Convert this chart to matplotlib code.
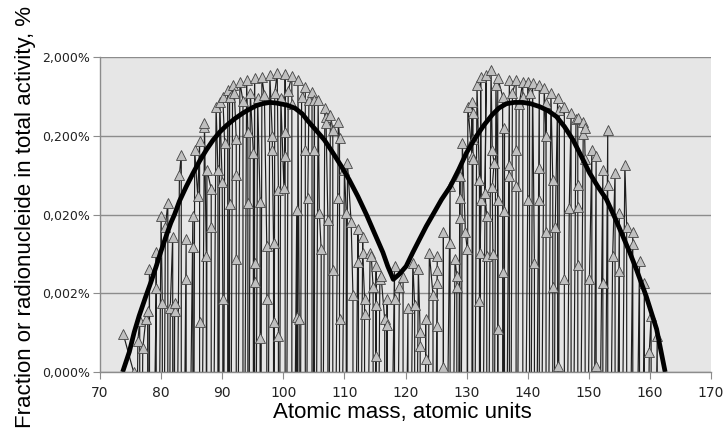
import numpy as np
import matplotlib
matplotlib.use("Agg")
import matplotlib.pyplot as plt
from matplotlib.ticker import FuncFormatter, FixedLocator, NullLocator

# --- data (fraction of total activity, %) ---
# 0 = nuclide with no activity (line drops below the axis)
mass_light = [73.8, 75.5, 75.5, 76.2, 76.5, 76.5, 77.0, 77.5, 77.8, 77.8,
              78.1, 78.1, 79.2, 79.2, 79.2, 80.0, 80.2, 80.2, 80.7, 81.1,
              81.1, 81.5, 81.9, 81.9, 82.2, 82.2, 82.2, 83.0, 83.3, 83.3,
              84.1, 84.1, 84.1, 85.2, 85.2, 85.2, 85.5, 86.0, 86.3, 86.3,
              86.3, 87.1, 87.1, 87.4, 87.4, 87.5, 88.2, 88.2, 88.2, 89.0,
              89.3, 89.3, 89.6, 90.0, 90.1, 90.1, 90.4, 90.1, 90.9, 90.9,
              91.2, 91.2, 91.2, 91.7, 92.0, 92.3, 92.3, 92.3, 92.3, 92.9,
              93.4, 93.4, 94.0, 94.2, 94.2, 94.2, 94.6, 95.1, 95.1, 95.3,
              95.3, 95.3, 95.3, 95.8, 96.2, 96.2, 96.2, 96.5, 96.9, 97.3,
              97.3, 97.3, 97.8, 98.2, 98.2, 98.4, 98.4, 98.4, 98.6, 99.0,
              99.2, 99.2, 99.2, 99.6, 100.1, 100.3, 100.3, 100.3, 100.3, 100.8,
              101.4, 101.4, 101.4, 102.2, 102.2, 102.2, 102.4, 102.6, 102.6, 103.0,
              103.6, 103.6, 103.6, 104.0, 104.2, 104.7, 104.7, 105.1, 105.1, 105.1,
              105.7, 105.9, 106.2, 106.2, 106.8, 107.0, 107.0, 107.3, 107.3, 107.7,
              108.1, 108.1, 108.1, 108.9, 109.0, 109.2, 109.2, 109.2]
frac_light = [0.00061, 0.0002, 0, 0.0005, 0.0009, 0, 0.0004, 0.00093, 0.0012, 0,
              0.0041, 0, 0.0023, 0.0067, 0, 0.019, 0.0015, 0, 0.014, 0.028,
              0, 0.0013, 0.0105, 0, 0.0012, 0.0015, 0, 0.064, 0.115, 0,
              0.0097, 0.003, 0, 0.019, 0.0078, 0, 0.13, 0.034, 0.17, 0.00087,
              0, 0.26, 0.29, 0.0059, 0, 0.074, 0.042, 0.014, 0, 0.47,
              0.074, 0, 0.54, 0.051, 0.0017, 0, 0.16, 0.62, 0.76, 0,
              0.63, 0.027, 0, 0.88, 0.69, 0.18, 0.064, 0.0054, 0, 0.96,
              0.55, 0, 1.02, 0.22, 0.028, 0, 0.7, 0.12, 0, 1.08,
              0.0049, 0.0028, 0, 0.6, 0.029, 0.00054, 0, 1.11, 0.65, 0.0079,
              0.0017, 0, 1.18, 0.2, 0.13, 0.0088, 0.00086, 0, 0.7, 1.25,
              0.041, 0.00057, 0, 0.6, 0.044, 0.22, 0.11, 1.22, 0, 0.75,
              1.15, 0.5, 0, 0.023, 0.001, 0, 1.02, 0.00093, 0, 0.62,
              0.83, 0.13, 0, 0.032, 0.57, 0.72, 0, 0.57, 0.13, 0,
              0.57, 0.021, 0.0072, 0, 0.45, 0.35, 0.29, 0.017, 0, 0.37,
              0.24, 0.0039, 0, 0.032, 0.3, 0.19, 0.00093, 0]

mass_valley = [110.0, 110.3, 110.3, 110.5, 111.1, 111.4, 111.4, 112.2, 112.3, 112.3,
               113.0, 113.0, 113.3, 113.3, 113.3, 114.2, 114.4, 114.7, 114.7, 115.2,
               115.2, 115.2, 115.2, 115.8, 116.0, 116.6, 116.6, 117.0, 117.0, 117.0,
               118.2, 118.2, 118.2, 119.0, 119.6, 119.6, 120.4, 120.4, 121.2, 121.5,
               121.5, 122.1, 122.4, 122.4, 122.4, 123.3, 123.3, 123.3, 123.9, 124.5,
               124.5, 125.2, 125.2, 125.2, 125.2, 125.2, 126.2, 126.2, 126.2, 127.3,
               127.3, 127.3, 128.1, 128.4, 128.4, 128.4, 128.9, 128.9, 128.9, 128.9,
               129.3, 129.8, 130.1, 130.1]
frac_valley = [0.074, 0.021, 0, 0.09, 0.016, 0.0019, 0, 0.013, 0.005, 0,
               0.0105, 0.0065, 0.0017, 0.0011, 0, 0.0065, 0.0059, 0.0024, 0, 0.0044,
               0.0014, 0.00032, 0, 0.003, 0.0033, 0.00093, 0, 0.0017, 0.0008, 0,
               0.0044, 0.0017, 0, 0.0024, 0.0032, 0, 0.0013, 0, 0.0049, 0.0014,
               0, 0.0041, 0.00064, 0.00043, 0, 0.00029, 0.00093, 0, 0.0065, 0.0019,
               0, 0.0059, 0.0039, 0.0027, 0.00077, 0, 0.00023, 0.012, 0, 0.046,
               0.0088, 0, 0.0054, 0.0033, 0.0024, 0, 0.061, 0.032, 0.018, 0,
               0.16, 0.012, 0.0072, 0]

mass_heavy = [130.2, 130.9, 130.9, 130.9, 131.0, 131.0, 131.0, 131.0, 131.7, 132.1,
              132.1, 132.1, 132.3, 132.4, 132.2, 132.2, 133.2, 133.0, 133.3, 133.3,
              133.3, 134.0, 134.2, 134.5, 134.2, 134.3, 134.3, 134.8, 135.1, 135.1,
              135.1, 135.1, 135.9, 135.9, 135.9, 136.2, 136.2, 136.2, 137.0, 137.0,
              137.0, 137.0, 137.5, 138.1, 138.1, 138.1, 138.1, 138.6, 139.2, 139.2,
              139.2, 140.0, 140.0, 140.3, 140.3, 140.8, 141.1, 141.1, 141.9, 141.9,
              141.9, 141.9, 142.7, 143.0, 143.0, 143.0, 143.0, 143.8, 144.1, 144.1,
              144.1, 144.5, 144.9, 144.9, 144.9, 145.2, 146.0, 146.0, 146.0, 146.8,
              147.1, 147.1, 147.9, 148.2, 148.2, 148.2, 148.2, 148.2, 149.1, 149.1,
              149.3, 149.4, 149.4, 150.1, 150.5, 150.5, 151.2, 151.2, 151.2, 152.3,
              152.3, 152.3, 153.1, 153.1, 153.1, 153.9, 154.3, 154.3, 155.0, 155.0,
              155.0, 155.9, 156.2, 156.2, 157.2, 157.2, 157.2, 158.3, 158.3, 159.1,
              159.1, 159.9, 160.2, 160.2, 161.2, 161.2]
frac_heavy = [0.47, 0.11, 0.54, 0, 0.39, 0.18, 0.1, 0, 0.88, 0.055,
              0.0016, 0, 1.13, 0.031, 0.0065, 0, 1.18, 0.037, 0.019, 0.0059,
              0, 1.37, 0.13, 0.09, 0.045, 0.0063, 0, 0.88, 0.031, 0.0007,
              0, 1.08, 0.63, 0.0037, 0, 0.25, 0.022, 0, 1.02, 0.086,
              0.061, 0, 0.7, 1.02, 0.13, 0.046, 0, 0.5, 0.97, 0.63,
              0, 0.031, 0.97, 0.69, 0, 0.93, 0.0049, 0, 0.88, 0.078,
              0.031, 0, 0.81, 0.196, 0.52, 0.012, 0, 0.69, 0.055, 0.0024,
              0, 0.014, 0.6, 0.00024, 0, 0.43, 0.47, 0.003, 0, 0.024,
              0.39, 0, 0.33, 0.34, 0.048, 0.025, 0.0046, 0, 0.3, 0.21,
              0.25, 0.1, 0, 0.003, 0.13, 0, 0.11, 0.00024, 0, 0.074,
              0.0027, 0, 0.24, 0.048, 0, 0.0059, 0.068, 0, 0.021, 0.0038,
              0, 0.086, 0.014, 0, 0.012, 0.0084, 0, 0.0051, 0, 0.0027,
              0, 0.00036, 0.00103, 0, 0.00057, 0]

# smooth fit curve (black), read point by point
fit_mass = [73.7, 74.8, 75.6, 76.4, 77.5, 78.4, 79.2, 80.0, 80.8, 81.6,
            82.2, 83.0, 84.1, 85.2, 86.3, 87.4, 88.5, 89.6, 90.7, 92.1,
            93.4, 94.5, 95.6, 96.7, 97.8, 98.9, 100.6, 101.9, 103.1, 104.0,
            105.3, 106.7, 108.1, 109.5, 110.8, 112.2, 113.6, 114.9, 116.3, 117.1,
            118.0, 119.0, 120.1, 121.2, 122.3, 123.4, 124.5, 125.9, 127.3, 128.7,
            130.0, 131.4, 132.8, 134.2, 135.3, 136.5, 137.8, 139.2, 140.5, 141.9,
            143.3, 144.7, 146.0, 147.4, 148.8, 150.1, 151.5, 152.9, 154.3, 155.6,
            156.7, 157.8, 159.4, 161.1, 162.5]
fit_frac = [0.0002, 0.00036, 0.00064, 0.00103, 0.00183, 0.00286, 0.0044, 0.0069, 0.0105, 0.0157,
            0.02, 0.0295, 0.045, 0.0664, 0.0955, 0.132, 0.176, 0.223, 0.27, 0.331,
            0.389, 0.436, 0.484, 0.513, 0.53, 0.52, 0.49, 0.448, 0.38, 0.31,
            0.238, 0.178, 0.122, 0.082, 0.055, 0.034, 0.02, 0.0117, 0.0066, 0.0044,
            0.003, 0.0035, 0.0044, 0.0066, 0.0097, 0.0142, 0.02, 0.031, 0.045, 0.074,
            0.122, 0.187, 0.27, 0.37, 0.45, 0.51, 0.53, 0.53, 0.51, 0.47,
            0.418, 0.35, 0.262, 0.178, 0.109, 0.068, 0.045, 0.031, 0.018, 0.0105,
            0.0066, 0.004, 0.00183, 0.0007, 0.0002]

y_ticks = [0.0002, 0.002, 0.02, 0.2, 2.0]
x_ticks = list(range(70, 171, 10))

mass = np.array(mass_light + mass_valley + mass_heavy)
frac = np.array(frac_light + frac_valley + frac_heavy)
frac_plot = np.where(frac > 0, frac, 1e-9)  # zeros fall below the axis

fig = plt.figure(figsize=(7.24, 4.32), dpi=100)
ax = fig.add_axes([100 / 724, 1 - 372 / 432, 611 / 724, 315 / 432])
ax.set_facecolor("#e6e6e6")

ax.plot(mass, frac_plot, color="#1e1e1e", lw=0.85, marker="^", ms=6.8,
        mfc="#c0c0c0", mec="#454545", mew=0.6, zorder=3)
ax.plot(fit_mass, fit_frac, color="black", lw=3.4, solid_joinstyle="round",
        solid_capstyle="butt", zorder=4)

ax.set_yscale("log")
ax.set_ylim(0.0002, 2.0)
ax.set_xlim(70, 170)
ax.yaxis.set_major_locator(FixedLocator(y_ticks))
ax.yaxis.set_minor_locator(NullLocator())
ax.yaxis.set_major_formatter(FuncFormatter(lambda v, p: f"{v:.3f}".replace(".", ",") + "%"))
ax.set_xticks(x_ticks)

ax.grid(True, axis="y", color="#8c8c8c", lw=1.0, zorder=1)
ax.set_axisbelow(True)
for s in ("top", "right"):
    ax.spines[s].set_visible(False)
for s in ("left", "bottom"):
    ax.spines[s].set_color("#8c8c8c")
    ax.spines[s].set_linewidth(1.0)
    ax.spines[s].set_zorder(5)
ax.tick_params(axis="y", labelsize=9, length=5, color="#8c8c8c", pad=2, labelcolor="#222222")
ax.tick_params(axis="x", labelsize=10, length=5, color="#8c8c8c", pad=5, labelcolor="#222222")

fig.text(402 / 724, 1 - 418 / 432, "Atomic mass, atomic units", ha="center", va="baseline",
         fontsize=16, family="Liberation Sans")
fig.text(25.5 / 724, 1 - 217 / 432, "Fraction or radionucleide in total activity, %",
         rotation=90, ha="center", va="center", fontsize=16, family="Liberation Sans")

fig.savefig("out.png", dpi=100)
